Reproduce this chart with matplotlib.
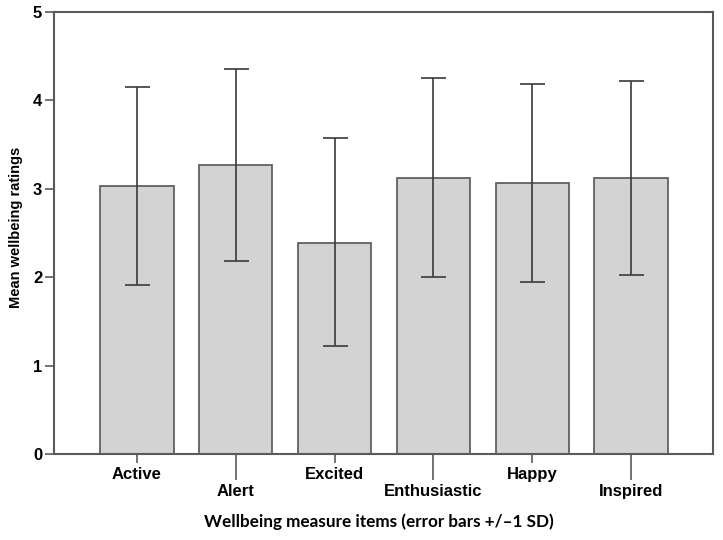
import matplotlib
matplotlib.use("Agg")
import matplotlib.pyplot as plt
import numpy as np

categories = ["Active", "Alert", "Excited", "Enthusiastic", "Happy", "Inspired"]
means = [3.03, 3.27, 2.39, 3.12, 3.07, 3.12]
err_low = [1.91, 2.18, 1.22, 2.00, 1.95, 2.02]
err_high = [4.15, 4.35, 3.57, 4.25, 4.18, 4.22]
yticks = [0, 1, 2, 3, 4, 5]

fig = plt.figure(figsize=(7.23, 5.40), dpi=100)
ax = fig.add_axes([54/723, 1-454/540, (713-54)/723, (454-12)/540])

x = np.arange(len(categories))
m = np.array(means)
lo = m - np.array(err_low)
hi = np.array(err_high) - m

spine_c = "#5a5a5a"
ax.bar(x, m, width=0.74, color="#d3d3d3", edgecolor="#555555", linewidth=1.2, zorder=2)
ax.errorbar(x, m, yerr=[lo, hi], fmt="none", ecolor="#3a3a3a", elinewidth=1.2,
            capsize=9, capthick=1.2, zorder=3)

ax.set_xlim(-0.84, len(categories) - 1 + 0.83)
ax.set_ylim(0, 5)
ax.set_yticks(yticks)
ax.set_yticklabels([str(t) for t in yticks], fontsize=12, fontweight="bold",
                   family="Liberation Sans")
ax.tick_params(axis="y", length=6.5, width=1.2, color=spine_c, pad=2)

major = x[0::2]
minor = x[1::2]
ax.set_xticks(major)
ax.set_xticklabels([categories[i] for i in major], fontsize=12, fontweight="bold",
                   family="Liberation Sans")
ax.set_xticks(minor, minor=True)
ax.set_xticklabels([categories[i] for i in minor], minor=True, fontsize=12,
                   fontweight="bold", family="Liberation Sans")
ax.tick_params(axis="x", which="major", length=6.5, width=1.2, color=spine_c, pad=3)
ax.tick_params(axis="x", which="minor", length=19, width=1.2, color=spine_c, pad=2.5)

for s in ax.spines.values():
    s.set_color(spine_c)
    s.set_linewidth(1.5)

fig.text(16/723, 1-227/540, "Mean wellbeing ratings", rotation=90, ha="center",
         va="center", fontsize=10.5, fontweight="bold", family="Liberation Sans")
fig.text(379/723, 1-522/540, "Wellbeing measure items (error bars +/\u20131 SD)",
         ha="center", va="center", fontsize=12.3, fontweight="bold", family="Lato")

fig.savefig("out.png", dpi=100)
